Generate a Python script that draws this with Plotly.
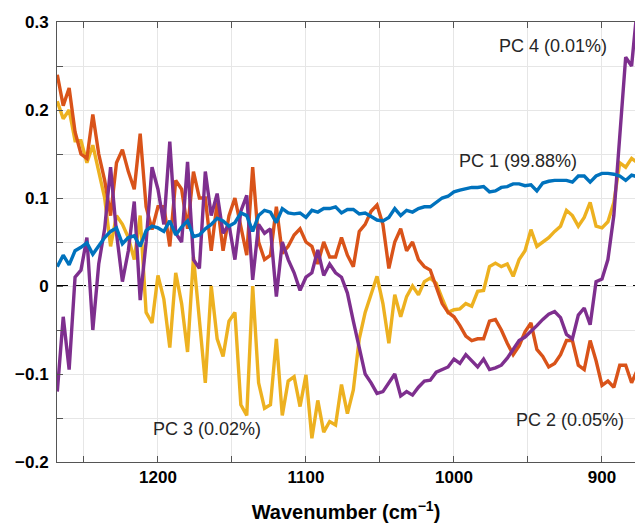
import plotly.graph_objects as go

# Wavenumber grid (cm^-1), high to low
wavenumber = list(range(1268, 875, -4))

pc1 = [0.022, 0.035, 0.024, 0.040, 0.044, 0.049, 0.036, 0.046, 0.055, 0.062, 0.066, 0.048, 0.055,
       0.057, 0.045, 0.063, 0.068, 0.066, 0.062, 0.074, 0.058, 0.067, 0.074, 0.056, 0.058,
       0.065, 0.070, 0.077, 0.074, 0.068, 0.072, 0.083, 0.080, 0.062, 0.080, 0.086, 0.084, 0.072,
       0.088, 0.083, 0.082, 0.083, 0.078, 0.086, 0.084, 0.088, 0.088, 0.090, 0.083, 0.087,
       0.087, 0.082, 0.083, 0.079, 0.075, 0.074, 0.078, 0.088, 0.080, 0.086, 0.084, 0.088,
       0.090, 0.090, 0.095, 0.100, 0.102, 0.107, 0.109, 0.111, 0.112, 0.112, 0.113, 0.107,
       0.108, 0.112, 0.113, 0.116, 0.116, 0.114, 0.115, 0.108, 0.117, 0.119, 0.120, 0.120, 0.120,
       0.118, 0.125, 0.125, 0.118, 0.125, 0.128, 0.128, 0.127, 0.125, 0.120, 0.126, 0.124]

pc2 = [0.240, 0.205, 0.225, 0.175, 0.150, 0.145, 0.195, 0.150, 0.120, 0.080, 0.140, 0.155, 0.130,
       0.110, 0.173, 0.090, 0.064, 0.090, 0.090, 0.045, 0.120, 0.110, 0.065, 0.130, 0.100,
       0.100, 0.040, 0.095, 0.040, 0.080, 0.100, 0.065, 0.035, 0.135, 0.050, 0.030, 0.035, 0.090,
       0.037, 0.045, 0.058, 0.065, 0.050, 0.045, 0.025, 0.050, 0.033, 0.033, 0.055, 0.035,
       0.022, 0.062, 0.070, 0.085, 0.092, 0.070, 0.020, 0.050, 0.065, 0.040, 0.050, 0.030,
       0.022, 0.018, 0.000, -0.020, -0.030, -0.035, -0.045, -0.057, -0.062, -0.060, -0.060, -0.040,
       -0.038, -0.050, -0.065, -0.078, -0.068, -0.052, -0.042, -0.072, -0.080, -0.092, -0.088,
       -0.078, -0.062, -0.062, -0.090, -0.095, -0.062, -0.085, -0.113, -0.108, -0.115, -0.090,
       -0.090, -0.110, -0.095]

pc3 = [0.210, 0.190, 0.200, 0.165, 0.165, 0.140, 0.160, 0.130, 0.100, 0.045, 0.080, 0.070, 0.055,
       0.030, 0.080, -0.030, -0.042, 0.012, -0.015, -0.070, 0.015, -0.020, -0.075, 0.033, -0.040,
       -0.110, 0.000, -0.060, -0.080, -0.040, -0.030, -0.135, -0.147, 0.000, -0.110, -0.139,
       -0.135, -0.060, -0.147, -0.108, -0.103, -0.137, -0.101, -0.173, -0.130, -0.166, -0.154,
       -0.158, -0.112, -0.145,
       -0.118, -0.060, -0.030, -0.008, 0.011, -0.020, -0.065, -0.010, -0.035, -0.012, 0.000,
       -0.010, 0.005, 0.009, 0.003, -0.014, -0.030, -0.027, -0.026, -0.020, -0.023, -0.006,
       -0.005, 0.022,
       0.026, 0.022, 0.025, 0.011, 0.030, 0.040, 0.064, 0.045, 0.050, 0.055, 0.062, 0.068, 0.086,
       0.080, 0.068, 0.078, 0.095, 0.068, 0.066, 0.073, 0.095, 0.140, 0.135, 0.145, 0.140]

pc4 = [-0.120, -0.035, -0.095, 0.010, 0.018, 0.055, -0.050, 0.025, 0.065, 0.135, 0.060, 0.005,
       0.040, 0.096, -0.016, 0.050, 0.135, 0.110, 0.070, 0.164, 0.060, 0.050, 0.141, 0.030, 0.020,
       0.130, 0.080, 0.105, 0.060, 0.070, 0.030, 0.085, 0.103, 0.007, 0.070, 0.060, 0.065, -0.012,
       0.050, 0.030, 0.015, -0.005, 0.010, 0.015, 0.041, 0.012, 0.025, 0.015, 0.010, -0.008,
       -0.040, -0.070, -0.100, -0.110, -0.122, -0.120, -0.110, -0.100, -0.125, -0.120, -0.124,
       -0.115, -0.108, -0.107, -0.098, -0.095, -0.092, -0.083, -0.088, -0.078, -0.085, -0.092,
       -0.083, -0.095,
       -0.093, -0.090, -0.082, -0.072, -0.062, -0.058, -0.052, -0.045, -0.038, -0.032, -0.029,
       -0.036, -0.055, -0.060, -0.033, -0.025, -0.044, 0.005, 0.008, 0.030, 0.080, 0.175, 0.260,
       0.250, 0.320]

series = [
    ("PC 3 (0.02%)", pc3, "#EDB120"),
    ("PC 2 (0.05%)", pc2, "#D95319"),
    ("PC 4 (0.01%)", pc4, "#7E2F8E"),
    ("PC 1 (99.88%)", pc1, "#0072BD"),
]

labels = [
    ("PC 4 (0.01%)", 933, 0.273),
    ("PC 1 (99.88%)", 957, 0.142),
    ("PC 3 (0.02%)", 1167, -0.1625),
    ("PC 2 (0.05%)", 921.5, -0.1517),
]

x_ticks = [900, 950, 1000, 1050, 1100, 1150, 1200, 1250]
x_text = ["900", " ", "1000", " ", "1100", " ", "1200", " "]
y_ticks = [-0.2, -0.15, -0.1, -0.05, 0, 0.05, 0.1, 0.15, 0.2, 0.25, 0.3]
y_text = ["\u22120.2", " ", "\u22120.1", " ", "0", " ", "0.1", " ", "0.2", " ", "0.3"]

FONT = "Liberation Sans, Arial, Helvetica, sans-serif"

fig = go.Figure()
for name, vals, col in series:
    fig.add_trace(go.Scatter(x=wavenumber, y=vals, mode="lines", name=name,
                             line=dict(color=col, width=3.4)))

fig.add_hline(y=0, line=dict(color="black", width=2.2, dash="11px,7px"), layer="below")

for text, xv, yv in labels:
    fig.add_annotation(x=xv, y=yv, xref="x", yref="y", text=text, showarrow=False,
                       font=dict(family=FONT, size=18, color="#262626"))

axis_common = dict(
    ticks="inside", ticklen=6, tickcolor="#555555", tickwidth=1,
    showline=True, linecolor="#555555", linewidth=1,
    showgrid=True, gridcolor="#e6e6e6", gridwidth=1, zeroline=False,
    tickfont=dict(family=FONT, size=17, color="black", weight="bold"),
)

fig.update_layout(
    width=635, height=525,
    margin=dict(l=57, r=0, t=22, b=63),
    paper_bgcolor="white", plot_bgcolor="white",
    showlegend=False,
    font=dict(family=FONT),
    xaxis=dict(range=[1268.2, 877.7], tickmode="array", tickvals=x_ticks, ticktext=x_text,
               mirror="ticks",
               title=dict(text="Wavenumber (cm<sup>\u22121</sup>)",
                          font=dict(family=FONT, size=20, color="black", weight="bold"),
                          standoff=18),
               **axis_common),
    yaxis=dict(range=[-0.2, 0.3], tickmode="array", tickvals=y_ticks, ticktext=y_text,
               mirror=False, ticklabelstandoff=4, **axis_common),
)

fig.write_html("out.html")
